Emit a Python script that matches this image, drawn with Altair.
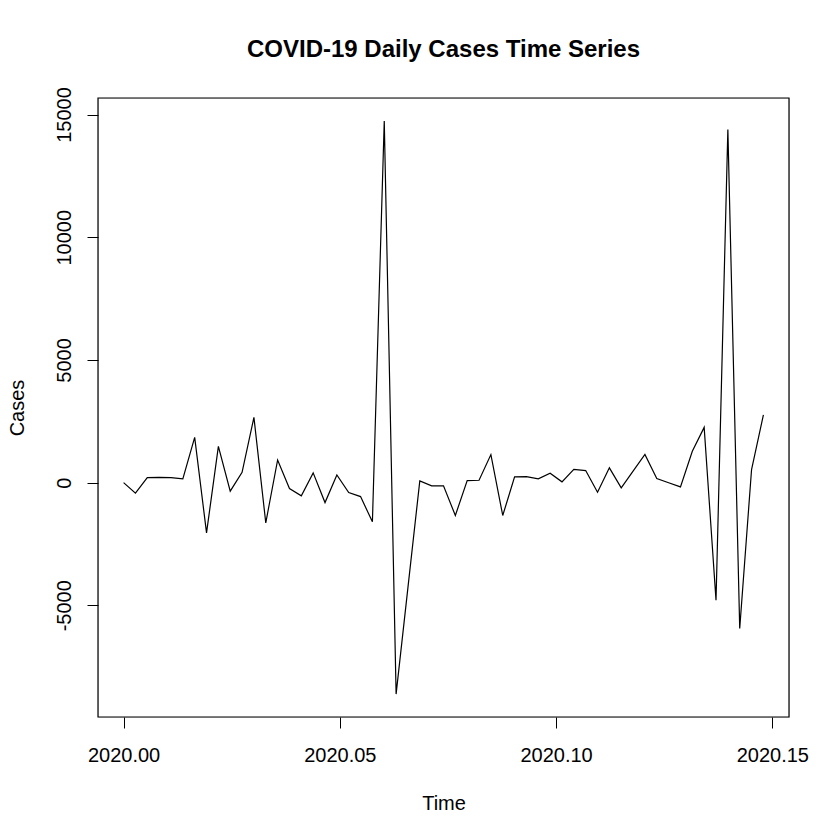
import altair as alt
import pandas as pd

# Time series: daily (frequency 365) starting at 2020.0
start_year = 2020.0
frequency = 365
cases = [
    0, -430, 200, 215, 200, 150, 1840, -2050, 1475, -350,
    420, 2655, -1640, 920, -245, -540, 395, -815, 310, -405,
    -570, -1600, 14740, -8620, -4270, 70, -135, -135, -1340, 80,
    95, 1140, -1340, 230, 245, 150, 380, 30, 540, 490,
    -395, 600, -215, 470, 1150, 165, -5, -175, 1275, 2250,
    -4795, 14390, -5946, 530, 2760,
]
x_ticks = [2020.00, 2020.05, 2020.10, 2020.15]
y_ticks = [-5000, 0, 5000, 10000, 15000]

times = [start_year + i / frequency for i in range(len(cases))]
df = pd.DataFrame({"Time": times, "Cases": cases})

# R-style 4% axis extension
tmin, tmax = min(times), max(times)
tpad = (tmax - tmin) * 0.04
cmin, cmax = min(cases), max(cases)
cpad = (cmax - cmin) * 0.04

FONT = "Liberation Sans"
W, H = 691, 619

line = (
    alt.Chart(df)
    .mark_line(color="black", strokeWidth=1.2)
    .encode(
        x=alt.X(
            "Time:Q",
            scale=alt.Scale(domain=[tmin - tpad, tmax + tpad], nice=False, zero=False),
            axis=alt.Axis(
                values=x_ticks, format=".2f", title="Time",
                domain=False, grid=False, tickSize=11, tickColor="black", tickWidth=1,
                labelFontSize=20, labelFont=FONT, labelColor="black",
                labelPadding=17, labelBaseline="top", labelFlush=False,
                titleFontSize=20, titleFont=FONT, titleFontWeight="normal", titleColor="black",
                titleBaseline="alphabetic", titleX=345.5, titleY=92,
            ),
        ),
        y=alt.Y(
            "Cases:Q",
            scale=alt.Scale(domain=[cmin - cpad, cmax + cpad], nice=False, zero=False),
            axis=alt.Axis(
                values=y_ticks, title="Cases",
                labelExpr="'' + datum.value",
                domain=False, grid=False, tickSize=11, tickColor="black", tickWidth=1,
                labelFontSize=20, labelFont=FONT, labelColor="black",
                labelAngle=270, labelAlign="center", labelBaseline="alphabetic",
                labelPadding=17, labelFlush=False, labelOverlap=False,
                titleFontSize=20, titleFont=FONT, titleFontWeight="normal", titleColor="black",
                titleAngle=270, titleAlign="center", titleBaseline="alphabetic",
                titleX=-75, titleY=309.5,
            ),
        ),
    )
)

box = (
    alt.Chart(pd.DataFrame({"k": [0]}))
    .mark_rect(fill=None, filled=False, stroke="black", strokeWidth=1.2)
    .encode(
        x=alt.value(0), x2=alt.value(W),
        y=alt.value(0), y2=alt.value(H),
    )
)

chart = (
    alt.layer(line, box)
    .properties(
        width=W,
        height=H,
        title=alt.Title(
            "COVID-19 Daily Cases Time Series",
            fontSize=24, font=FONT, fontWeight="bold", color="black",
            anchor="middle", frame="group", baseline="alphabetic", offset=6,
        ),
        padding={"left": 90, "top": 90, "right": 43, "bottom": 115},
        autosize=alt.AutoSizeParams(type="none"),
    )
    .configure_view(stroke=None)
    .configure(background="white")
)

chart.save("out.html", embed_options={"renderer": "svg", "actions": False})
